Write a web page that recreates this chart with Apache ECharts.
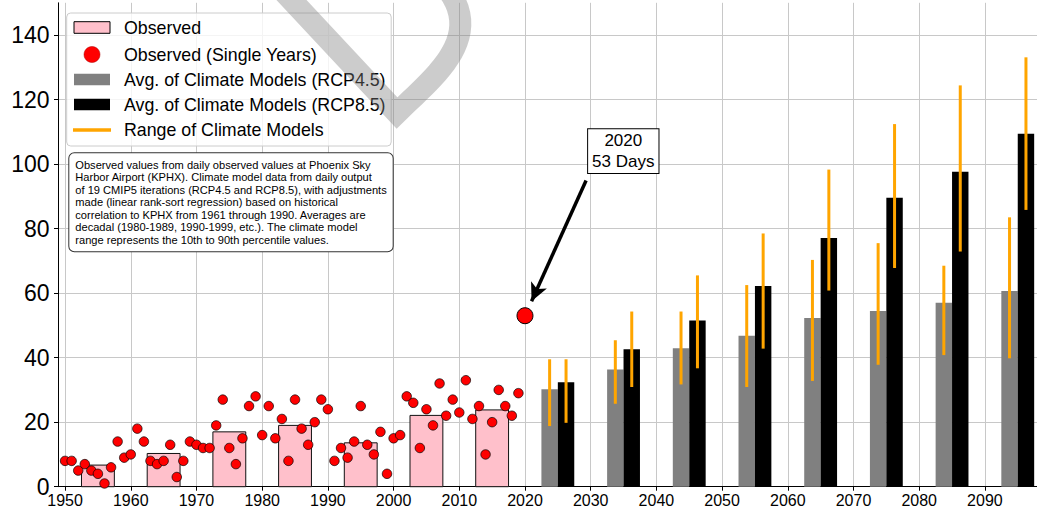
<!DOCTYPE html>
<html><head><meta charset="utf-8">
<script src="https://cdn.jsdelivr.net/npm/echarts@6/dist/echarts.min.js"></script>
<style>html,body{margin:0;padding:0;background:#fff}#c{width:1037px;height:508px}</style>
</head><body><div id="c"></div>
<script>
// ---------------- data ----------------
const years = [1950,1951,1952,1953,1954,1955,1956,1957,1958,1959,
  1960,1961,1962,1963,1964,1965,1966,1967,1968,1969,
  1970,1971,1972,1973,1974,1975,1976,1977,1978,1979,
  1980,1981,1982,1983,1984,1985,1986,1987,1988,1989,
  1990,1991,1992,1993,1994,1995,1996,1997,1998,1999,
  2000,2001,2002,2003,2004,2005,2006,2007,2008,2009,
  2010,2011,2012,2013,2014,2015,2016,2017,2018,2019];
const singleYearDays = [8,8,5,7,5,4,1,6,14,9,
  10,18,14,8,7,8,13,3,8,14,
  13,12,12,19,27,12,7,15,25,28,
  16,25,15,21,8,27,18,13,20,27,
  24,8,12,9,14,25,13,10,17,4,
  15,16,28,26,12,24,19,32,22,27,
  23,33,21,25,10,20,30,25,22,29];
const obsDecades = [1950,1960,1970,1980,1990,2000,2010];
const obsDecadalAvg = [6.7,10.3,17.0,19.0,13.6,22.1,23.8];
const highlightYear = 2020;
const highlightDays = 53;
const projDecades = [2020,2030,2040,2050,2060,2070,2080,2090];
const rcp45Avg  = [30.2,36.3,42.9,46.8,52.3,54.5,57.0,60.7];
const rcp45Low  = [18.8,25.7,31.7,30.9,32.8,37.8,40.8,39.8];
const rcp45High = [39.5,45.4,54.3,62.5,70.3,75.5,68.5,83.5];
const rcp85Avg  = [32.4,42.6,51.5,62.2,77.1,89.6,97.6,109.4];
const rcp85Low  = [19.8,30.9,36.7,42.8,60.8,67.8,72.9,85.8];
const rcp85High = [39.5,54.3,65.5,78.5,98.3,112.4,124.4,133.1];
const xTickValues = [1950,1960,1970,1980,1990,2000,2010,2020,2030,2040,2050,2060,2070,2080,2090];
const yTickValues = [0,20,40,60,80,100,120,140];
const legendLabels = ['Observed','Observed (Single Years)','Avg. of Climate Models (RCP4.5)','Avg. of Climate Models (RCP8.5)','Range of Climate Models'];
const noteText = 'Observed values from daily observed values at Phoenix Sky\nHarbor Airport (KPHX). Climate model data from daily output\nof 19 CMIP5 iterations (RCP4.5 and RCP8.5), with adjustments\nmade (linear rank-sort regression) based on historical\ncorrelation to KPHX from 1961 through 1990. Averages are\ndecadal (1980-1989, 1990-1999, etc.). The climate model\nrange represents the 10th to 90th percentile values.';
const calloutText = '2020\n53 Days';

// ---------------- build ----------------
const FONT = '"Liberation Sans", Arial, Helvetica, sans-serif';
const chart = echarts.init(document.getElementById('c'), null, {renderer: 'svg'});

const obsBars = obsDecades.map((d, i) => [d + 2.5, d + 7.5, obsDecadalAvg[i]]);
const r45Bars = projDecades.map((d, i) => [d + 2.5, d + 5, rcp45Avg[i]]);
const r85Bars = projDecades.map((d, i) => [d + 5, d + 7.5, rcp85Avg[i]]);
const r45Err = projDecades.map((d, i) => [d + 3.75, rcp45Low[i], rcp45High[i]]);
const r85Err = projDecades.map((d, i) => [d + 6.25, rcp85Low[i], rcp85High[i]]);
const points = years.map((y, i) => [y, singleYearDays[i]]);

function barRender(fill, stroke, lw) {
  return function (params, api) {
    const a = api.coord([api.value(0), api.value(2)]);
    const b = api.coord([api.value(1), 0]);
    return {type: 'rect', shape: {x: a[0], y: a[1], width: b[0] - a[0], height: b[1] - a[1]},
      style: {fill: fill, stroke: stroke, lineWidth: lw}};
  };
}
function errRender(params, api) {
  const a = api.coord([api.value(0), api.value(1)]);
  const b = api.coord([api.value(0), api.value(2)]);
  return {type: 'line', shape: {x1: a[0], y1: a[1], x2: b[0], y2: b[1]},
    style: {stroke: '#FFA500', lineWidth: 3}};
}

// watermark stroke points (decoration)
const wm = [[284, -8], [397, 113]];
(function () {
  const P0 = [397, 113], P1 = [430, 80], P2 = [485, 40], P3 = [448, -10];
  for (let k = 1; k <= 24; k++) {
    const t = k / 24, u = 1 - t;
    wm.push([u*u*u*P0[0] + 3*u*u*t*P1[0] + 3*u*t*t*P2[0] + t*t*t*P3[0],
             u*u*u*P0[1] + 3*u*u*t*P1[1] + 3*u*t*t*P2[1] + t*t*t*P3[1]]);
  }
})();

const legendY = [27.5, 54.5, 79.5, 104.5, 130];
const legendEls = [
  {type: 'rect', shape: {x: 66.7, y: 13, width: 324.5, height: 133, r: 4},
    style: {fill: 'rgba(255,255,255,0.8)', stroke: '#cccccc', lineWidth: 1}, z: 100},
  {type: 'rect', shape: {x: 74, y: 21.7, width: 36, height: 11.6},
    style: {fill: 'pink', stroke: '#000', lineWidth: 1}, z: 101},
  {type: 'circle', shape: {cx: 92, cy: 54.5, r: 8},
    style: {fill: '#ff0000', stroke: '#aa0000', lineWidth: 0.5}, z: 101},
  {type: 'rect', shape: {x: 74, y: 73.7, width: 36, height: 11.6},
    style: {fill: '#808080'}, z: 101},
  {type: 'rect', shape: {x: 74, y: 98.7, width: 36, height: 11.6},
    style: {fill: '#000000'}, z: 101},
  {type: 'line', shape: {x1: 73, y1: 130, x2: 111, y2: 130},
    style: {stroke: '#FFA500', lineWidth: 3.5}, z: 101}
];
legendLabels.forEach((t, i) => legendEls.push({
  type: 'text', x: 124, y: legendY[i], z: 101,
  style: {text: t, fontSize: 17.8, fontFamily: FONT, fill: '#000', verticalAlign: 'middle', align: 'left'}
}));

const option = {
  animation: false,
  backgroundColor: '#fff',
  grid: {left: 58.5, right: -13.6, top: 2.8, bottom: 21.3, containLabel: false, outerBoundsMode: 'none'},
  xAxis: {
    type: 'value', min: 1949, max: 2100,
    axisLine: {show: true, onZero: false, lineStyle: {color: '#000', width: 1}},
    axisTick: {show: true, length: 4, lineStyle: {color: '#000'}, customValues: xTickValues},
    axisLabel: {color: '#000', fontSize: 16, lineHeight: 14, fontFamily: FONT, margin: 6.5, customValues: xTickValues,
      formatter: v => String(v)},
    splitLine: {show: true, lineStyle: {color: '#c8c8c8', width: 1}}
  },
  yAxis: {
    type: 'value', min: 0, max: 150,
    axisLine: {show: true, lineStyle: {color: '#000', width: 1}},
    axisTick: {show: true, length: 4.5, lineStyle: {color: '#000'}, customValues: yTickValues},
    axisLabel: {color: '#000', fontSize: 23, lineHeight: 12, fontFamily: FONT, margin: 9, customValues: yTickValues},
    splitLine: {show: true, lineStyle: {color: '#c8c8c8', width: 1}}
  },
  series: [
    {type: 'custom', name: 'Observed', data: obsBars, encode: {x: [0, 1], y: 2},
      renderItem: barRender('pink', '#111', 1), z: 2},
    {type: 'custom', name: 'RCP4.5', data: r45Bars, encode: {x: [0, 1], y: 2},
      renderItem: barRender('#808080', null, 0), z: 2},
    {type: 'custom', name: 'RCP8.5', data: r85Bars, encode: {x: [0, 1], y: 2},
      renderItem: barRender('#000000', null, 0), z: 2},
    {type: 'custom', name: 'Range45', data: r45Err, encode: {x: 0, y: [1, 2]}, renderItem: errRender, z: 3},
    {type: 'custom', name: 'Range85', data: r85Err, encode: {x: 0, y: [1, 2]}, renderItem: errRender, z: 3},
    {type: 'scatter', name: 'Single', data: points, symbolSize: 9.5, z: 4,
      itemStyle: {color: '#ff0000', borderColor: '#000', borderWidth: 0.7, opacity: 1}},
    {type: 'scatter', name: 'Highlight', data: [[highlightYear, highlightDays]], symbolSize: 16, z: 4,
      itemStyle: {color: '#ff0000', borderColor: '#000', borderWidth: 1, opacity: 1},
      markLine: {silent: true, symbol: ['none', 'arrow'], symbolSize: [13, 18], animation: false,
        lineStyle: {color: '#000', width: 3.5, type: 'solid'}, label: {show: false},
        data: [[{coord: [2029.3, 94.9]}, {coord: [2021.0, 57.5]}]]}}
  ],
  graphic: legendEls.concat([
    {type: 'text', x: 69.3, y: 153.3, z: 100,
      style: {text: noteText, fontSize: 11.1, fontFamily: FONT, fill: '#000', lineHeight: 12.55,
        backgroundColor: '#fff', borderColor: '#333', borderWidth: 1, borderRadius: 5, padding: [5, 6, 5, 6]}},
    {type: 'text', x: 623.3, y: 129.3, z: 100,
      style: {text: calloutText, fontSize: 17, fontFamily: FONT, fill: '#000', lineHeight: 20.3, align: 'center',
        backgroundColor: '#fff', borderColor: '#000', borderWidth: 1, padding: [1.5, 4, 1.5, 4]}},
    {type: 'polyline', shape: {points: wm}, z: 200, silent: true,
      style: {fill: null, stroke: 'rgba(128,128,128,0.4)', lineWidth: 22, lineJoin: 'miter', lineCap: 'butt'}}
  ])
};
chart.setOption(option);
</script>
</body></html>
